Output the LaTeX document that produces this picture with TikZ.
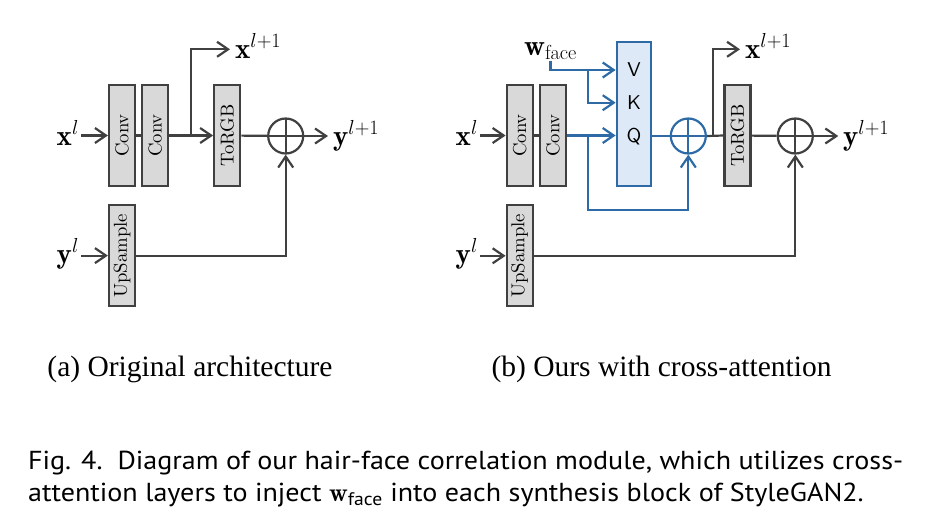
\documentclass[tikz,border=0pt]{standalone}
\usepackage{fix-cm}
\usepackage{amsmath}
\usepackage{graphicx}
\usepackage{fontspec}
\newfontfamily\capserif{Liberation Serif}
\newfontfamily\capsans{PT Sans}[FakeStretch=1.08]
\newfontfamily\boxfont{lmroman10-regular.otf}
\newfontfamily\qkvfont{lmsans10-regular.otf}
\usepackage{color}
\definecolor{mygray}{RGB}{64,64,64}
\definecolor{myboxgray}{RGB}{217,217,217}
\definecolor{myblue}{RGB}{46,107,166}
\definecolor{myqkvblue}{RGB}{221,233,246}
\usepackage{tikz}
\usetikzlibrary{arrows.meta,positioning,calc}

\begin{document}
\begin{tikzpicture}[
  x=1pt,y=-1pt,
  line width=2.2pt,
  draw=mygray,
  >={Straight Barb[length=11pt,width=15pt]},
  mybox/.style={
    draw=mygray,
    fill=myboxgray,
    minimum width=26pt,
    minimum height=101pt,
    inner sep=0pt,
    font=\boxfont\fontsize{18.7}{20}\selectfont
    },
  myqkv/.style={
    draw=myblue,
    fill=myqkvblue,
    minimum width=34.5pt,
    minimum height=144pt,
    inner sep=0pt
    },
  mysum/.style={
    circle,
    draw=#1,
    minimum size=35pt,
    inner sep=0pt,
    path picture={
      \draw[#1] (path picture bounding box.north) -- (path picture bounding box.south)
        (path picture bounding box.west) -- (path picture bounding box.east);
      }
    },
  mylabel/.style={
    inner sep=1pt,
    font=\fontsize{29}{31}\selectfont
    },
  myletter/.style={
    inner sep=0pt,
    font=\qkvfont\fontsize{20}{22}\selectfont
    }
]
\useasboundingbox (0,0) rectangle (931,531);

% (a) original architecture
\node[mybox] (conv1a) at (122,135.5) {\rotatebox{90}{Conv}};
\node[mybox] (conv2a) at (155.3,135.5) {\rotatebox{90}{Conv}};
\node[mybox] (torgba) at (227.2,135.5) {\rotatebox{90}{ToRGB}};
\node[mybox] (upa) at (122,255.6) {\rotatebox{90}{UpSample}};
\node[mysum=mygray] (suma) at (285.7,136) {};

\node[mylabel,anchor=base east] (xa) at (81,145) {$\mathbf{x}^{l}$};
\node[mylabel,anchor=base east] (ya) at (81,263) {$\mathbf{y}^{l}$};
\node[mylabel,anchor=base west] (xa1) at (233,58) {$\mathbf{x}^{l+1}$};
\node[mylabel,anchor=base west] (ya1) at (331,145) {$\mathbf{y}^{l+1}$};
\coordinate (ba) at (191,136);
\coordinate (xa1tip) at (230,49.3);
\coordinate (ya1tip) at (328,136);

\draw[->] (xa.east |- conv1a) -- (conv1a.west);
\draw (conv1a) -- (conv2a);
\draw[->] (conv2a) -- (torgba);
\draw[->] (ba) |- (xa1tip);
\draw (torgba) -- (suma);
\draw[->] (suma) -- (ya1tip);
\draw[->] (ya.east |- upa) -- (upa.west);
\draw[->] (upa.east) -| (suma.south);

% (b) ours with cross-attention
\node[mybox] (conv1b) at (519.7,135.5) {\rotatebox{90}{Conv}};
\node[mybox] (conv2b) at (553,135.5) {\rotatebox{90}{Conv}};
\node[myqkv] (qkv) at (634,113.9) {};
\node[myletter] (v) at (634,70) {V};
\node[myletter] (k) at (634,102.7) {K};
\node[myletter] (q) at (634,136.7) {Q};
\node[mysum=myblue] (sumb) at (688.3,136) {};
\node[mybox] (torgbb) at (737.5,135.5) {\rotatebox{90}{ToRGB}};
\node[mysum=mygray] (sumc) at (795.3,136) {};
\node[mybox] (upb) at (519.7,255.8) {\rotatebox{90}{UpSample}};

\node[mylabel,anchor=base west,inner sep=0pt] (wf) at (523,55) {$\mathbf{w}_{\text{face}}$};
\node[mylabel,anchor=base east] (xb) at (480,145) {$\mathbf{x}^{l}$};
\node[mylabel,anchor=base east] (yb) at (480,263) {$\mathbf{y}^{l}$};
\node[mylabel,anchor=base west] (xb1) at (743,58) {$\mathbf{x}^{l+1}$};
\node[mylabel,anchor=base west] (yb1) at (841,145) {$\mathbf{y}^{l+1}$};
\coordinate (bb) at (588,136);
\coordinate (bc) at (713.3,136);
\coordinate (xb1tip) at (740,49.3);
\coordinate (yb1tip) at (838.3,136);

\draw[->] (xb.east |- conv1b) -- (conv1b.west);
\draw (conv1b) -- (conv2b);
\begin{scope}[draw=myblue]
  \draw[->] (wf.south) |- (qkv.west |- v);
  \draw[->] (bb |- v) |- (qkv.west |- k);
  \draw[->] (conv2b.east) -- (qkv.west |- conv2b);
  \draw[->] (bb) -- ++(0,74) -| (sumb.south);
  \draw (qkv.east |- sumb) -- (sumb.west);
\end{scope}
\draw (sumb.east) -- (torgbb.west);
\draw[->] (bc) |- (xb1tip);
\draw (torgbb) -- (sumc);
\draw[->] (sumc) -- (yb1tip);
\draw[->] (yb.east |- upb) -- (upb.west);
\draw[->] (upb.east) -| (sumc.south);

% captions
\node[anchor=base,font=\capserif\fontsize{29.5}{32}\selectfont] (capa) at (190,376) {(a) Original architecture};
\node[anchor=base,font=\capserif\fontsize{29.5}{32}\selectfont] (capb) at (661.5,376) {(b) Ours with cross-attention};
\node[anchor=base west,inner sep=0pt,font=\capsans\fontsize{26}{32}\selectfont] (cap1) at (27,469.3)
  {Fig. 4.\ \ Diagram of our hair-face correlation module, which utilizes cross-};
\node[anchor=base west,inner sep=0pt,font=\capsans\fontsize{26}{32}\selectfont] (cap2) at ($(cap1.base west)+(0,32.4)$)
  {attention layers to inject $\mathbf{w}_{\text{face}}$ into each synthesis block of StyleGAN2.};

\end{tikzpicture}
\end{document}
